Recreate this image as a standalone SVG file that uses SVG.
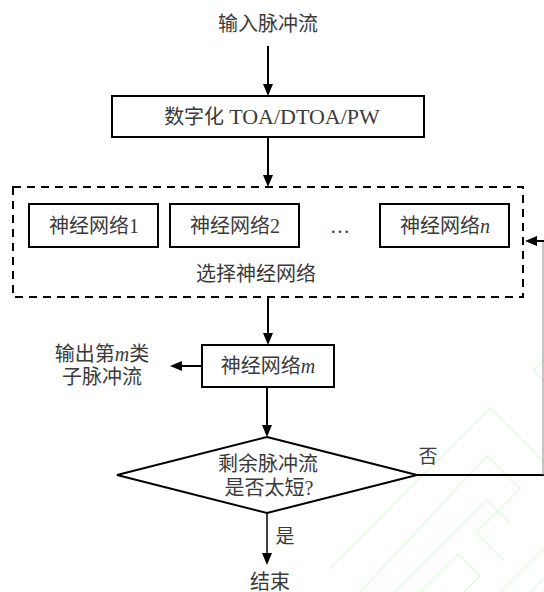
<svg xmlns="http://www.w3.org/2000/svg" width="544" height="592" viewBox="0 0 544 592">
  <style>
    .box { fill: #ffffff; stroke: #000000; stroke-width: 2; }
    .dash { fill: none; stroke: #000000; stroke-width: 2; stroke-dasharray: 8 6; }
    .txt { font-family: "Liberation Serif", "Noto Sans CJK SC", serif; font-size: 20px; fill: #3a3a3a; text-anchor: middle; }
    .lbl { font-family: "Liberation Serif", "Noto Sans CJK SC", serif; font-size: 19px; fill: #3a3a3a; text-anchor: middle; }
    .link { fill: none; stroke: #000000; stroke-width: 2; }
    .thin { fill: none; stroke: #000000; stroke-width: 1.5; }
    .back { fill: none; stroke: #8c8c8c; stroke-width: 1; }
    .wm { fill: none; stroke: #e2fae2; stroke-width: 1.5; }
  </style>
  <defs>
    <marker id="arrow" markerUnits="userSpaceOnUse" markerWidth="12" markerHeight="12" viewBox="0 0 12 12" refX="6" refY="6" orient="auto">
      <path d="M0,1 L12,6 L0,11 Z" fill="#000000"/>
    </marker>
  </defs>

  <rect width="544" height="592" fill="#ffffff"/>

  <!-- faint background pattern, lower right -->
  <g id="pattern" class="wm">
    <polyline points="330,568 490,408 544,462"/>
    <polyline points="360,592 487,456 520,489 476,533 504,561"/>
    <polyline points="395,592 487,500 510,523"/>
    <polyline points="420,592 458,554 480,576 464,592"/>
    <polyline points="530,592 544,578"/>
    <polyline points="534,370 544,360"/>
    <polyline points="533,370 544,381"/>
    <polyline points="500,592 544,548"/>
  </g>

  <g id="input-label">
    <text class="txt" x="268" y="31">输入脉冲流</text>
  </g>

  <g id="digitize">
    <rect class="box" x="112" y="96" width="312" height="41"/>
    <text class="txt" x="272" y="124">数字化 <tspan font-size="22px">TOA/DTOA/PW</tspan></text>
  </g>

  <g id="select-group">
    <rect class="dash" x="13" y="187" width="510" height="110"/>
    <text class="txt" x="256" y="281">选择神经网络</text>
  </g>

  <g id="net-1">
    <rect class="box" x="29" y="204" width="129" height="43"/>
    <text class="txt" x="94" y="233">神经网络1</text>
  </g>

  <g id="net-2">
    <rect class="box" x="170" y="204" width="129" height="43"/>
    <text class="txt" x="235" y="233">神经网络2</text>
  </g>

  <g id="ellipsis">
    <text class="txt" x="340" y="233">…</text>
  </g>

  <g id="net-n">
    <rect class="box" x="380" y="204" width="129" height="43"/>
    <text class="txt" x="445" y="233">神经网络<tspan font-style="italic">n</tspan></text>
  </g>

  <g id="net-m">
    <rect class="box" x="202" y="345" width="132" height="42"/>
    <text class="txt" x="268" y="373">神经网络<tspan font-style="italic">m</tspan></text>
  </g>

  <g id="output-label">
    <text class="txt" x="102" y="361">输出第<tspan font-style="italic">m</tspan>类</text>
    <text class="txt" x="102" y="384">子脉冲流</text>
  </g>

  <g id="decision">
    <polygon class="box" points="267,437 417,475 267,513 117,475"/>
    <text class="txt" x="268" y="471">剩余脉冲流</text>
    <text class="txt" x="269" y="495">是否太短?</text>
  </g>

  <g id="end-label">
    <text class="txt" x="270" y="589">结束</text>
  </g>

  <g id="connectors">
    <path class="link" d="M268,46 V90" marker-end="url(#arrow)"/>
    <path class="link" d="M268,137 V181" marker-end="url(#arrow)"/>
    <path class="link" d="M268,297 V339" marker-end="url(#arrow)"/>
    <path class="link" d="M202,366 H176" marker-end="url(#arrow)"/>
    <path class="link" d="M267,387 V431" marker-end="url(#arrow)"/>
    <path class="thin" d="M267,513 V559" marker-end="url(#arrow)"/>
    <path class="link" d="M417,475 H544"/>
    <path class="back" d="M543,475 V241"/>
    <path class="link" d="M544,241 H531" marker-end="url(#arrow)"/>
    <text class="lbl" x="428" y="463">否</text>
    <text class="lbl" x="285" y="543">是</text>
  </g>
</svg>
